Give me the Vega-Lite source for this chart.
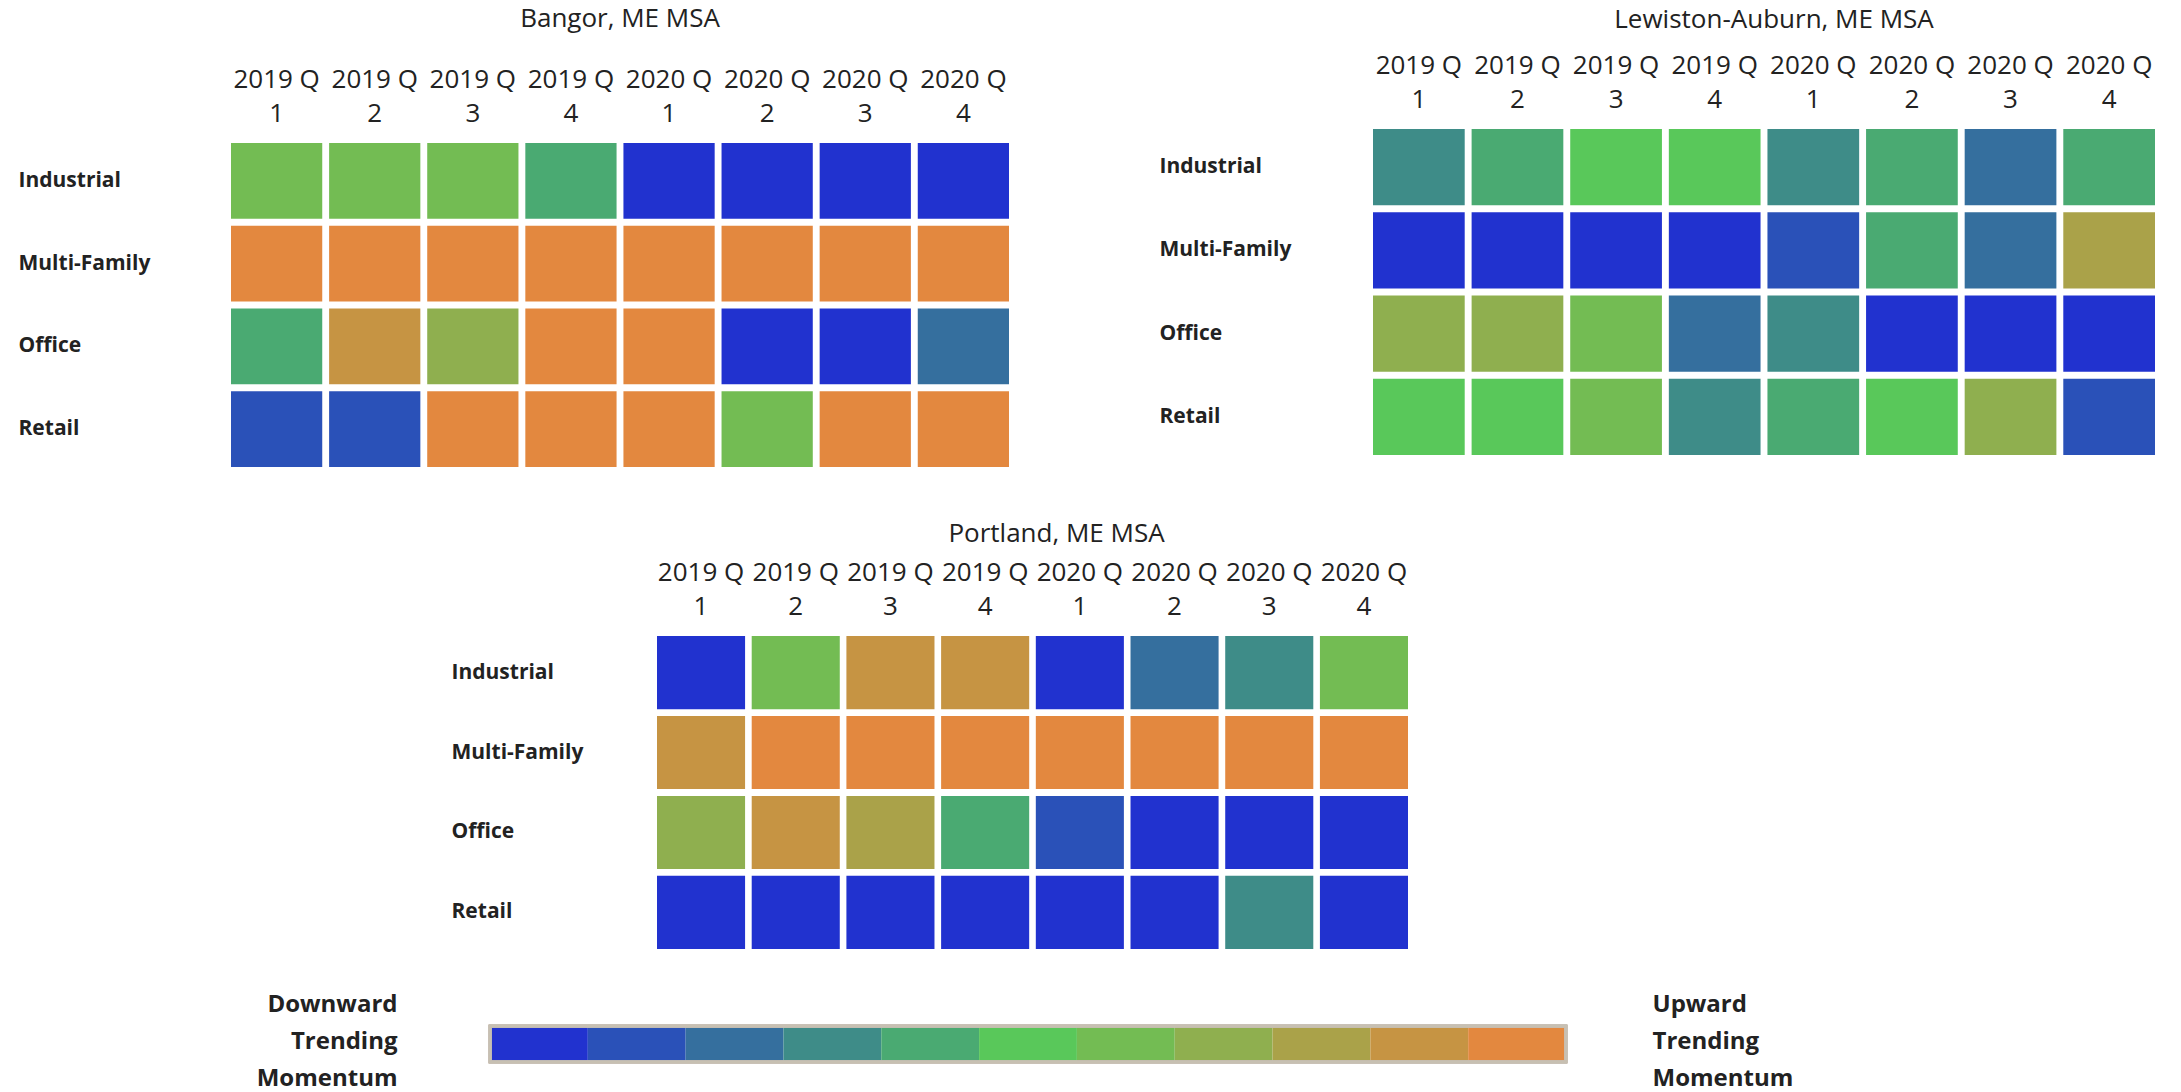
{
  "$schema": "https://vega.github.io/schema/vega-lite/v6.json",
  "background": "white",
  "padding": {"left": 18, "top": 6, "right": 10, "bottom": 4},
  "config": {
    "view": {"stroke": null},
    "font": "Open Sans",
    "title": {"font": "Open Sans", "fontSize": 26, "fontWeight": "normal", "color": "#222222", "anchor": "middle", "baseline": "bottom"},
    "axisX": {"orient": "top", "title": null, "labelAngle": 0, "labelExpr": "[slice(datum.label, 0, 6), slice(datum.label, 7)]", "labelFont": "Open Sans", "labelFontSize": 26, "labelLineHeight": 34, "labelPadding": 51, "ticks": false, "tickSize": 0, "domain": false, "labelColor": "#222222", "labelOverlap": false, "labelFlush": false},
    "axisY": {"title": null, "labelAlign": "left", "labelFont": "Open Sans", "labelFontSize": 21, "labelFontWeight": "bold", "labelColor": "#222222", "labelLimit": 400, "ticks": false, "tickSize": 0, "domain": false}
  },
  "datasets": {
    "cells": [
      {"msa": "Bangor, ME MSA", "seg": "Industrial", "q": "2019 Q 1", "v": 7},
      {"msa": "Bangor, ME MSA", "seg": "Industrial", "q": "2019 Q 2", "v": 7},
      {"msa": "Bangor, ME MSA", "seg": "Industrial", "q": "2019 Q 3", "v": 7},
      {"msa": "Bangor, ME MSA", "seg": "Industrial", "q": "2019 Q 4", "v": 5},
      {"msa": "Bangor, ME MSA", "seg": "Industrial", "q": "2020 Q 1", "v": 1},
      {"msa": "Bangor, ME MSA", "seg": "Industrial", "q": "2020 Q 2", "v": 1},
      {"msa": "Bangor, ME MSA", "seg": "Industrial", "q": "2020 Q 3", "v": 1},
      {"msa": "Bangor, ME MSA", "seg": "Industrial", "q": "2020 Q 4", "v": 1},
      {"msa": "Bangor, ME MSA", "seg": "Multi-Family", "q": "2019 Q 1", "v": 11},
      {"msa": "Bangor, ME MSA", "seg": "Multi-Family", "q": "2019 Q 2", "v": 11},
      {"msa": "Bangor, ME MSA", "seg": "Multi-Family", "q": "2019 Q 3", "v": 11},
      {"msa": "Bangor, ME MSA", "seg": "Multi-Family", "q": "2019 Q 4", "v": 11},
      {"msa": "Bangor, ME MSA", "seg": "Multi-Family", "q": "2020 Q 1", "v": 11},
      {"msa": "Bangor, ME MSA", "seg": "Multi-Family", "q": "2020 Q 2", "v": 11},
      {"msa": "Bangor, ME MSA", "seg": "Multi-Family", "q": "2020 Q 3", "v": 11},
      {"msa": "Bangor, ME MSA", "seg": "Multi-Family", "q": "2020 Q 4", "v": 11},
      {"msa": "Bangor, ME MSA", "seg": "Office", "q": "2019 Q 1", "v": 5},
      {"msa": "Bangor, ME MSA", "seg": "Office", "q": "2019 Q 2", "v": 10},
      {"msa": "Bangor, ME MSA", "seg": "Office", "q": "2019 Q 3", "v": 8},
      {"msa": "Bangor, ME MSA", "seg": "Office", "q": "2019 Q 4", "v": 11},
      {"msa": "Bangor, ME MSA", "seg": "Office", "q": "2020 Q 1", "v": 11},
      {"msa": "Bangor, ME MSA", "seg": "Office", "q": "2020 Q 2", "v": 1},
      {"msa": "Bangor, ME MSA", "seg": "Office", "q": "2020 Q 3", "v": 1},
      {"msa": "Bangor, ME MSA", "seg": "Office", "q": "2020 Q 4", "v": 3},
      {"msa": "Bangor, ME MSA", "seg": "Retail", "q": "2019 Q 1", "v": 2},
      {"msa": "Bangor, ME MSA", "seg": "Retail", "q": "2019 Q 2", "v": 2},
      {"msa": "Bangor, ME MSA", "seg": "Retail", "q": "2019 Q 3", "v": 11},
      {"msa": "Bangor, ME MSA", "seg": "Retail", "q": "2019 Q 4", "v": 11},
      {"msa": "Bangor, ME MSA", "seg": "Retail", "q": "2020 Q 1", "v": 11},
      {"msa": "Bangor, ME MSA", "seg": "Retail", "q": "2020 Q 2", "v": 7},
      {"msa": "Bangor, ME MSA", "seg": "Retail", "q": "2020 Q 3", "v": 11},
      {"msa": "Bangor, ME MSA", "seg": "Retail", "q": "2020 Q 4", "v": 11},
      {"msa": "Lewiston-Auburn, ME MSA", "seg": "Industrial", "q": "2019 Q 1", "v": 4},
      {"msa": "Lewiston-Auburn, ME MSA", "seg": "Industrial", "q": "2019 Q 2", "v": 5},
      {"msa": "Lewiston-Auburn, ME MSA", "seg": "Industrial", "q": "2019 Q 3", "v": 6},
      {"msa": "Lewiston-Auburn, ME MSA", "seg": "Industrial", "q": "2019 Q 4", "v": 6},
      {"msa": "Lewiston-Auburn, ME MSA", "seg": "Industrial", "q": "2020 Q 1", "v": 4},
      {"msa": "Lewiston-Auburn, ME MSA", "seg": "Industrial", "q": "2020 Q 2", "v": 5},
      {"msa": "Lewiston-Auburn, ME MSA", "seg": "Industrial", "q": "2020 Q 3", "v": 3},
      {"msa": "Lewiston-Auburn, ME MSA", "seg": "Industrial", "q": "2020 Q 4", "v": 5},
      {"msa": "Lewiston-Auburn, ME MSA", "seg": "Multi-Family", "q": "2019 Q 1", "v": 1},
      {"msa": "Lewiston-Auburn, ME MSA", "seg": "Multi-Family", "q": "2019 Q 2", "v": 1},
      {"msa": "Lewiston-Auburn, ME MSA", "seg": "Multi-Family", "q": "2019 Q 3", "v": 1},
      {"msa": "Lewiston-Auburn, ME MSA", "seg": "Multi-Family", "q": "2019 Q 4", "v": 1},
      {"msa": "Lewiston-Auburn, ME MSA", "seg": "Multi-Family", "q": "2020 Q 1", "v": 2},
      {"msa": "Lewiston-Auburn, ME MSA", "seg": "Multi-Family", "q": "2020 Q 2", "v": 5},
      {"msa": "Lewiston-Auburn, ME MSA", "seg": "Multi-Family", "q": "2020 Q 3", "v": 3},
      {"msa": "Lewiston-Auburn, ME MSA", "seg": "Multi-Family", "q": "2020 Q 4", "v": 9},
      {"msa": "Lewiston-Auburn, ME MSA", "seg": "Office", "q": "2019 Q 1", "v": 8},
      {"msa": "Lewiston-Auburn, ME MSA", "seg": "Office", "q": "2019 Q 2", "v": 8},
      {"msa": "Lewiston-Auburn, ME MSA", "seg": "Office", "q": "2019 Q 3", "v": 7},
      {"msa": "Lewiston-Auburn, ME MSA", "seg": "Office", "q": "2019 Q 4", "v": 3},
      {"msa": "Lewiston-Auburn, ME MSA", "seg": "Office", "q": "2020 Q 1", "v": 4},
      {"msa": "Lewiston-Auburn, ME MSA", "seg": "Office", "q": "2020 Q 2", "v": 1},
      {"msa": "Lewiston-Auburn, ME MSA", "seg": "Office", "q": "2020 Q 3", "v": 1},
      {"msa": "Lewiston-Auburn, ME MSA", "seg": "Office", "q": "2020 Q 4", "v": 1},
      {"msa": "Lewiston-Auburn, ME MSA", "seg": "Retail", "q": "2019 Q 1", "v": 6},
      {"msa": "Lewiston-Auburn, ME MSA", "seg": "Retail", "q": "2019 Q 2", "v": 6},
      {"msa": "Lewiston-Auburn, ME MSA", "seg": "Retail", "q": "2019 Q 3", "v": 7},
      {"msa": "Lewiston-Auburn, ME MSA", "seg": "Retail", "q": "2019 Q 4", "v": 4},
      {"msa": "Lewiston-Auburn, ME MSA", "seg": "Retail", "q": "2020 Q 1", "v": 5},
      {"msa": "Lewiston-Auburn, ME MSA", "seg": "Retail", "q": "2020 Q 2", "v": 6},
      {"msa": "Lewiston-Auburn, ME MSA", "seg": "Retail", "q": "2020 Q 3", "v": 8},
      {"msa": "Lewiston-Auburn, ME MSA", "seg": "Retail", "q": "2020 Q 4", "v": 2},
      {"msa": "Portland, ME MSA", "seg": "Industrial", "q": "2019 Q 1", "v": 1},
      {"msa": "Portland, ME MSA", "seg": "Industrial", "q": "2019 Q 2", "v": 7},
      {"msa": "Portland, ME MSA", "seg": "Industrial", "q": "2019 Q 3", "v": 10},
      {"msa": "Portland, ME MSA", "seg": "Industrial", "q": "2019 Q 4", "v": 10},
      {"msa": "Portland, ME MSA", "seg": "Industrial", "q": "2020 Q 1", "v": 1},
      {"msa": "Portland, ME MSA", "seg": "Industrial", "q": "2020 Q 2", "v": 3},
      {"msa": "Portland, ME MSA", "seg": "Industrial", "q": "2020 Q 3", "v": 4},
      {"msa": "Portland, ME MSA", "seg": "Industrial", "q": "2020 Q 4", "v": 7},
      {"msa": "Portland, ME MSA", "seg": "Multi-Family", "q": "2019 Q 1", "v": 10},
      {"msa": "Portland, ME MSA", "seg": "Multi-Family", "q": "2019 Q 2", "v": 11},
      {"msa": "Portland, ME MSA", "seg": "Multi-Family", "q": "2019 Q 3", "v": 11},
      {"msa": "Portland, ME MSA", "seg": "Multi-Family", "q": "2019 Q 4", "v": 11},
      {"msa": "Portland, ME MSA", "seg": "Multi-Family", "q": "2020 Q 1", "v": 11},
      {"msa": "Portland, ME MSA", "seg": "Multi-Family", "q": "2020 Q 2", "v": 11},
      {"msa": "Portland, ME MSA", "seg": "Multi-Family", "q": "2020 Q 3", "v": 11},
      {"msa": "Portland, ME MSA", "seg": "Multi-Family", "q": "2020 Q 4", "v": 11},
      {"msa": "Portland, ME MSA", "seg": "Office", "q": "2019 Q 1", "v": 8},
      {"msa": "Portland, ME MSA", "seg": "Office", "q": "2019 Q 2", "v": 10},
      {"msa": "Portland, ME MSA", "seg": "Office", "q": "2019 Q 3", "v": 9},
      {"msa": "Portland, ME MSA", "seg": "Office", "q": "2019 Q 4", "v": 5},
      {"msa": "Portland, ME MSA", "seg": "Office", "q": "2020 Q 1", "v": 2},
      {"msa": "Portland, ME MSA", "seg": "Office", "q": "2020 Q 2", "v": 1},
      {"msa": "Portland, ME MSA", "seg": "Office", "q": "2020 Q 3", "v": 1},
      {"msa": "Portland, ME MSA", "seg": "Office", "q": "2020 Q 4", "v": 1},
      {"msa": "Portland, ME MSA", "seg": "Retail", "q": "2019 Q 1", "v": 1},
      {"msa": "Portland, ME MSA", "seg": "Retail", "q": "2019 Q 2", "v": 1},
      {"msa": "Portland, ME MSA", "seg": "Retail", "q": "2019 Q 3", "v": 1},
      {"msa": "Portland, ME MSA", "seg": "Retail", "q": "2019 Q 4", "v": 1},
      {"msa": "Portland, ME MSA", "seg": "Retail", "q": "2020 Q 1", "v": 1},
      {"msa": "Portland, ME MSA", "seg": "Retail", "q": "2020 Q 2", "v": 1},
      {"msa": "Portland, ME MSA", "seg": "Retail", "q": "2020 Q 3", "v": 4},
      {"msa": "Portland, ME MSA", "seg": "Retail", "q": "2020 Q 4", "v": 1}
    ],
    "steps": [
      {"step": 1, "bar": "scale"}, {"step": 2, "bar": "scale"}, {"step": 3, "bar": "scale"},
      {"step": 4, "bar": "scale"}, {"step": 5, "bar": "scale"}, {"step": 6, "bar": "scale"},
      {"step": 7, "bar": "scale"}, {"step": 8, "bar": "scale"}, {"step": 9, "bar": "scale"},
      {"step": 10, "bar": "scale"}, {"step": 11, "bar": "scale"}
    ]
  },
  "spacing": 54,
  "vconcat": [
    {
      "hconcat": [
        {
          "vconcat": [
            {"width": 1, "height": 14, "data": {"values": []}, "mark": {"type": "rect"}},
            {
              "width": 778, "height": 324,
              "title": {"text": "Bangor, ME MSA", "offset": 34},
              "data": {"name": "cells"},
              "transform": [{"filter": "datum.msa === 'Bangor, ME MSA'"}],
              "mark": {"type": "rect"},
              "encoding": {
                "x": {"field": "q", "type": "nominal", "sort": ["2019 Q 1","2019 Q 2","2019 Q 3","2019 Q 4","2020 Q 1","2020 Q 2","2020 Q 3","2020 Q 4"],
                      "scale": {"paddingInner": 0.07, "paddingOuter": 0}, "axis": {"orient": "top"}},
                "y": {"field": "seg", "type": "nominal", "sort": ["Industrial","Multi-Family","Office","Retail"],
                      "scale": {"paddingInner": 0.085, "paddingOuter": 0}, "axis": {"labelPadding": 213}},
                "color": {"field": "v", "type": "ordinal", "legend": null,
                          "scale": {"domain": [1,2,3,4,5,6,7,8,9,10,11], "range": ["#2132CF","#2A51B8","#356F9E","#3E8C88","#4AAA72","#59C85A","#73BC53","#8FAF4F","#AAA249","#C69443","#E3883F"]}}
              }
            }
          ],
          "spacing": 0,
          "bounds": "flush"
        },
        {
          "width": 782, "height": 326,
          "title": {"text": "Lewiston-Auburn, ME MSA", "offset": 19, "dx": 10},
          "data": {"name": "cells"},
          "transform": [{"filter": "datum.msa === 'Lewiston-Auburn, ME MSA'"}],
          "mark": {"type": "rect"},
          "encoding": {
            "x": {"field": "q", "type": "nominal", "sort": ["2019 Q 1","2019 Q 2","2019 Q 3","2019 Q 4","2020 Q 1","2020 Q 2","2020 Q 3","2020 Q 4"],
                  "scale": {"paddingInner": 0.07, "paddingOuter": 0}, "axis": {"orient": "top"}},
            "y": {"field": "seg", "type": "nominal", "sort": ["Industrial","Multi-Family","Office","Retail"],
                  "scale": {"paddingInner": 0.085, "paddingOuter": 0}, "axis": {"labelPadding": 214}},
            "color": {"field": "v", "type": "ordinal", "legend": null,
                      "scale": {"domain": [1,2,3,4,5,6,7,8,9,10,11], "range": ["#2132CF","#2A51B8","#356F9E","#3E8C88","#4AAA72","#59C85A","#73BC53","#8FAF4F","#AAA249","#C69443","#E3883F"]}}
          }
        }
      ],
      "spacing": 150,
      "bounds": "full"
    },
    {
      "spacing": 43,
      "vconcat": [
        {
          "bounds": "flush",
          "spacing": 0,
          "hconcat": [
            {"width": 426, "height": 1, "data": {"values": []}, "mark": {"type": "rect"}},
            {
              "width": 751, "height": 313,
              "title": {"text": "Portland, ME MSA", "offset": 12, "dx": 24},
              "data": {"name": "cells"},
              "transform": [{"filter": "datum.msa === 'Portland, ME MSA'"}],
              "mark": {"type": "rect"},
              "encoding": {
                "x": {"field": "q", "type": "nominal", "sort": ["2019 Q 1","2019 Q 2","2019 Q 3","2019 Q 4","2020 Q 1","2020 Q 2","2020 Q 3","2020 Q 4"],
                      "scale": {"paddingInner": 0.07, "paddingOuter": 0}, "axis": {"orient": "top"}},
                "y": {"field": "seg", "type": "nominal", "sort": ["Industrial","Multi-Family","Office","Retail"],
                      "scale": {"paddingInner": 0.085, "paddingOuter": 0}, "axis": {"labelPadding": 206}},
                "color": {"field": "v", "type": "ordinal", "legend": null,
                          "scale": {"domain": [1,2,3,4,5,6,7,8,9,10,11], "range": ["#2132CF","#2A51B8","#356F9E","#3E8C88","#4AAA72","#59C85A","#73BC53","#8FAF4F","#AAA249","#C69443","#E3883F"]}}
              }
            }
          ]
        },
        {
          "bounds": "flush",
          "spacing": 0,
          "hconcat": [
            {"width": 259, "height": 1, "data": {"values": []}, "mark": {"type": "rect"}},
            {
              "width": 1076, "height": 36,
              "data": {"name": "steps"},
              "layer": [
                {
                  "mark": {"type": "rect"},
                  "encoding": {
                    "x": {"field": "step", "type": "ordinal", "axis": null, "scale": {"paddingInner": 0, "paddingOuter": 0}},
                    "y": {"field": "bar", "type": "nominal", "scale": {"paddingInner": 0, "paddingOuter": 0},
                          "axis": {"orient": "left", "labels": false, "ticks": false, "domain": false, "grid": false,
                                   "title": ["Downward", "Trending", "Momentum"], "titleAngle": 0, "titleAlign": "right", "titleBaseline": "middle",
                                   "titleX": -93, "titleY": -22, "titleFont": "Open Sans", "titleFontSize": 24, "titleFontWeight": "bold", "titleLineHeight": 37, "titleColor": "#222222"}},
                    "color": {"field": "step", "type": "ordinal", "legend": null,
                              "scale": {"domain": [1,2,3,4,5,6,7,8,9,10,11], "range": ["#2132CF","#2A51B8","#356F9E","#3E8C88","#4AAA72","#59C85A","#73BC53","#8FAF4F","#AAA249","#C69443","#E3883F"]}}
                  }
                },
                {
                  "mark": {"type": "rect", "filled": false, "stroke": "#C7C0B2", "strokeWidth": 2.5},
                  "encoding": {
                    "y": {"field": "bar", "type": "nominal",
                          "axis": {"orient": "right", "labels": false, "ticks": false, "domain": false, "grid": false,
                                   "title": ["Upward", "Trending", "Momentum"], "titleAngle": 0, "titleAlign": "left", "titleBaseline": "middle",
                                   "titleX": 86, "titleY": -22, "titleFont": "Open Sans", "titleFontSize": 24, "titleFontWeight": "bold", "titleLineHeight": 37, "titleColor": "#222222"}}
                  }
                }
              ],
              "resolve": {"axis": {"y": "independent"}}
            }
          ]
        }
      ]
    }
  ]
}
